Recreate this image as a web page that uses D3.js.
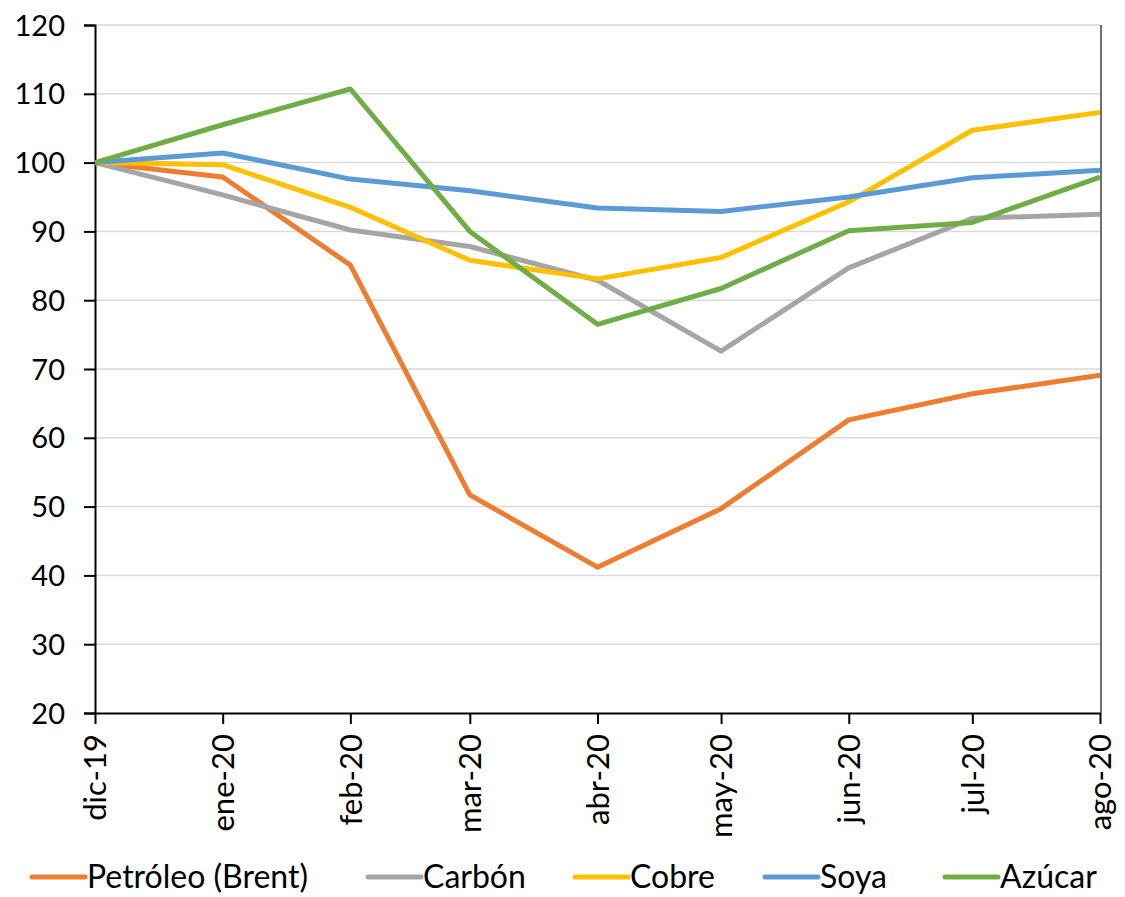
<!DOCTYPE html>
<html><head><meta charset="utf-8">
<script src="https://cdn.jsdelivr.net/npm/d3@7"></script>
<style>body{margin:0;background:#fff}svg{display:block}text{font-family:Lato,"Open Sans",sans-serif;fill:#000}</style>
</head><body><svg id="c" width="1125" height="897"></svg>
<script>
const months = ["2019-12-01","2020-01-01","2020-02-01","2020-03-01","2020-04-01","2020-05-01","2020-06-01","2020-07-01","2020-08-01"];
const monthLabels = ["dic-19","ene-20","feb-20","mar-20","abr-20","may-20","jun-20","jul-20","ago-20"];
const yTicks = [20,30,40,50,60,70,80,90,100,110,120];
const seriesNames = ["Petróleo (Brent)","Carbón","Cobre","Soya","Azúcar"];
const petroleo = [100,97.9,85.1,51.7,41.2,49.7,62.6,66.4,69.1];
const carbon   = [100,95.3,90.2,87.8,82.9,72.6,84.7,91.9,92.5];
const cobre    = [100,99.7,93.5,85.8,83.1,86.2,94.3,104.7,107.3];
const soya     = [100,101.4,97.6,95.9,93.4,92.9,95.0,97.8,98.9];
const azucar   = [100,105.5,110.7,90.0,76.5,81.7,90.1,91.3,97.9];
const colors = ["#ED7D31","#A5A5A5","#FFC000","#5B9BD5","#70AD47"];
const allSeries = [petroleo,carbon,cobre,soya,azucar];

const svg = d3.select("#c");
const parse = d3.utcParse("%Y-%m-%d");
const dates = months.map(parse);
const L=95, R=1100, T=25, B=713;
const x = d3.scaleUtc().domain([dates[0], dates[dates.length-1]]).range([L,R]);
const y = d3.scaleLinear().domain([20,120]).range([B,T]);

// grid
svg.append("g").selectAll("line").data(yTicks.filter(d=>d>20)).join("line")
  .attr("x1",L).attr("x2",R).attr("y1",d=>y(d)).attr("y2",d=>y(d))
  .attr("stroke","#d9d9d9").attr("stroke-width",1.5);

// right border
svg.append("line").attr("x1",R+1).attr("x2",R+1).attr("y1",T).attr("y2",B).attr("stroke","#404040").attr("stroke-width",1.5);

// y axis
const ya = svg.append("g").attr("transform",`translate(${L},0)`)
  .call(d3.axisLeft(y).tickValues(yTicks).tickSize(11).tickPadding(19).tickFormat(d3.format("d")));
ya.select(".domain").attr("stroke","#000").attr("stroke-width",2);
ya.selectAll(".tick line").attr("stroke","#000").attr("stroke-width",2);
ya.selectAll("text").style("font-size","29px").attr("dy","0.35em");

// x axis
const xa = svg.append("g").attr("transform",`translate(0,${B})`)
  .call(d3.axisBottom(x).tickValues(dates).tickSize(11).tickSizeOuter(0).tickFormat((d,i)=>monthLabels[i]));
xa.select(".domain").attr("stroke","#000").attr("stroke-width",2);
xa.selectAll(".tick line").attr("stroke","#000").attr("stroke-width",2);
xa.selectAll("text").style("font-size","31px")
  .attr("transform","rotate(-90)").attr("text-anchor","end")
  .attr("x",-21).attr("y",0).attr("dy","0.35em");

// lines
const line = d3.line().x((d,i)=>x(dates[i])).y(d=>y(d));
svg.append("g").selectAll("path").data(allSeries).join("path")
  .attr("d",line).attr("fill","none").attr("stroke",(d,i)=>colors[i])
  .attr("stroke-width",5).attr("stroke-linejoin","round");

// legend
const legX = [32,368,575,765,945];
const lg = svg.append("g").selectAll("g").data(seriesNames).join("g")
  .attr("transform",(d,i)=>`translate(${legX[i]},877)`);
lg.append("line").attr("x1",0).attr("x2",53).attr("stroke",(d,i)=>colors[i]).attr("stroke-width",5).attr("stroke-linecap","round");
lg.append("text").attr("x",55).attr("dy","0.35em").style("font-size","32px").text(d=>d);
</script></body></html>
